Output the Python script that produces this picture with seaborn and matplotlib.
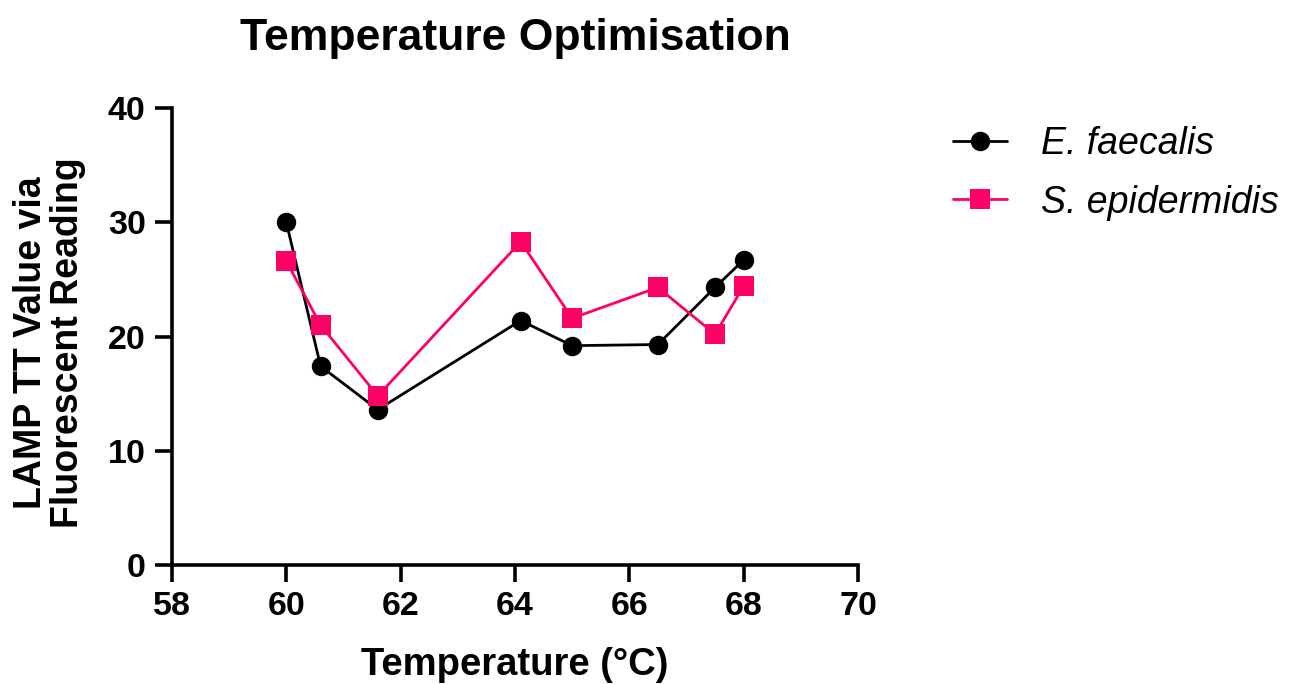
import matplotlib
matplotlib.use("Agg")
import matplotlib.pyplot as plt
import seaborn as sns
import pandas as pd
from matplotlib.lines import Line2D

temps_ef = [60.0, 60.6, 61.6, 64.1, 65.0, 66.5, 67.5, 68.0]
tt_ef = [30.0, 17.4, 13.6, 21.4, 19.2, 19.3, 24.3, 26.7]
temps_se = [60.0, 60.6, 61.6, 64.1, 65.0, 66.5, 67.5, 68.0]
tt_se = [26.6, 21.0, 14.8, 28.3, 21.6, 24.3, 20.2, 24.4]
series = ["E. faecalis", "S. epidermidis"]
x_ticks = [58, 60, 62, 64, 66, 68, 70]
y_ticks = [0, 10, 20, 30, 40]

df = pd.concat([
    pd.DataFrame({"Temperature": temps_ef, "TT": tt_ef, "Species": series[0]}),
    pd.DataFrame({"Temperature": temps_se, "TT": tt_se, "Species": series[1]}),
], ignore_index=True)

sns.set_style("ticks")
plt.rcParams['font.family'] = ['Liberation Sans', 'DejaVu Sans']
plt.rcParams['text.color'] = 'black'
plt.rcParams['axes.labelcolor'] = 'black'
plt.rcParams['xtick.color'] = 'black'
plt.rcParams['ytick.color'] = 'black'

fig = plt.figure(figsize=(12.96, 6.84), dpi=100)
ax = fig.add_axes([0.1327, 0.174, 0.5293, 0.668])

palette = {series[0]: "#000000", series[1]: "#FF0066"}
sns.lineplot(data=df, x="Temperature", y="TT", hue="Species", style="Species",
             markers={series[0]: "o", series[1]: "s"}, dashes=False,
             palette=palette, linewidth=2.0, markersize=14, markeredgewidth=0,
             ax=ax, sort=False, legend=False)

ax.set_xlim(58, 70)
ax.set_ylim(0, 40)
ax.set_xticks(x_ticks)
ax.set_yticks(y_ticks)
for s in ["top", "right"]:
    ax.spines[s].set_visible(False)
for s in ["left", "bottom"]:
    ax.spines[s].set_linewidth(2.6)
    ax.spines[s].set_color("black")
ax.tick_params(width=2.6, length=12, color="black", labelcolor="black", labelsize=24.5, pad=7)
for lab in ax.get_xticklabels() + ax.get_yticklabels():
    lab.set_fontweight("bold")

ax.set_xlabel("Temperature (°C)", fontsize=27.5, fontweight="bold", labelpad=18)
ax.set_ylabel("LAMP TT Value via\nFluorescent Reading", fontsize=27, fontweight="bold",
              linespacing=1.05)
ax.yaxis.set_label_coords(-0.125, 0.486)
ax.set_title("Temperature Optimisation", fontsize=32, fontweight="bold", pad=42)

handles = [
    Line2D([0], [0], color="#000000", marker="o", markersize=14, linewidth=2.0, markeredgewidth=0),
    Line2D([0], [0], color="#FF0066", marker="s", markersize=14, linewidth=2.0, markeredgewidth=0),
]
leg = fig.legend(handles, series, loc="upper left", bbox_to_anchor=(0.709, 0.865),
                 frameon=False, prop={"size": 27, "style": "italic"},
                 handlelength=1.45, labelspacing=0.6, handletextpad=0.9)

fig.savefig("out.png", dpi=100)
